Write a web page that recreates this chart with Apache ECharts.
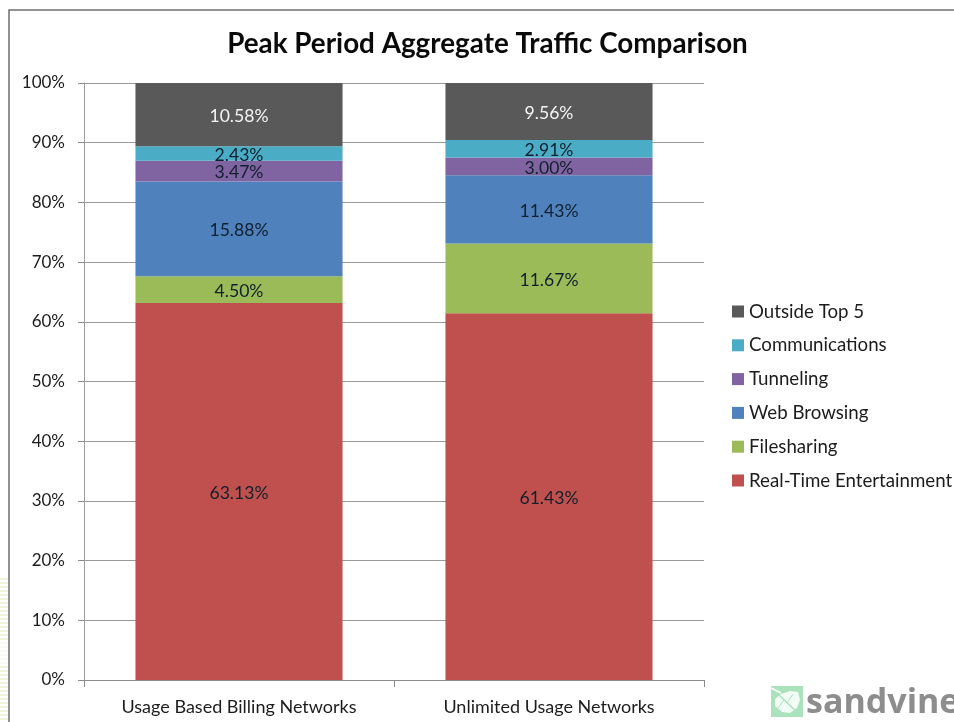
<!DOCTYPE html>
<html><head><meta charset="utf-8">
<style>html,body{margin:0;padding:0;background:#fff}#c{width:954px;height:722px}</style>
<script src="https://cdn.jsdelivr.net/npm/echarts@6/dist/echarts.min.js"></script>
</head><body><div id="c"></div>
<script>
const categories = ['Usage Based Billing Networks', 'Unlimited Usage Networks'];
const realTime = [63.13, 61.43];
const filesharing = [4.50, 11.67];
const webBrowsing = [15.88, 11.43];
const tunneling = [3.47, 3.00];
const communications = [2.43, 2.91];
const outsideTop5 = [10.58, 9.56];
const FONT = 'Lato, "Open Sans", sans-serif';
const TEXT = '#1c1c1c';
const mk = (name, data, color, labelColor) => ({
  name, data, type: 'bar', stack: 'total', barWidth: '66.8%',
  itemStyle: { color },
  label: { show: true, position: 'inside', offset: [0, 1.5], formatter: p => p.value.toFixed(2) + '%',
    color: labelColor || '#10202c', fontFamily: FONT, fontSize: 17.6 }
});
const stripes = [];
for (let y = 578; y < 722; y += 4) {
  const faint = y > 640 && y < 665;
  stripes.push({ type: 'rect', shape: { x: 0, y, width: 8, height: 2 }, style: { fill: faint ? '#f9fbf2' : '#eff5da' }, silent: true });
}
const chart = echarts.init(document.getElementById('c'), null, { renderer: 'canvas' });
chart.setOption({
  animation: false,
  backgroundColor: '#fff',
  title: { text: 'Peak Period Aggregate Traffic Comparison', left: 482.5, top: 25, textAlign: 'center',
    textStyle: { fontFamily: FONT, fontWeight: 'bold', fontSize: 27.8, color: '#0a0a0a' } },
  grid: { left: 84, top: 83, width: 620, height: 597, containLabel: false },
  legend: { orient: 'vertical', left: 732, top: 302, padding: 0, itemWidth: 12, itemHeight: 12, itemGap: 14.8, icon: 'rect',
    data: ['Outside Top 5', 'Communications', 'Tunneling', 'Web Browsing', 'Filesharing', 'Real-Time Entertainment'],
    textStyle: { fontFamily: FONT, fontSize: 18.7, color: TEXT } },
  xAxis: { type: 'category', data: categories,
    axisLine: { lineStyle: { color: '#8a8a8a', width: 1 } },
    axisTick: { show: true, length: 7, alignWithLabel: false, lineStyle: { color: '#8a8a8a' } },
    axisLabel: { color: TEXT, fontFamily: FONT, fontSize: 18, margin: 18 } },
  yAxis: { type: 'value', min: 0, max: 100, interval: 10,
    axisLine: { show: true, lineStyle: { color: '#9a9a9a', width: 1 } },
    axisTick: { show: true, length: 6, lineStyle: { color: '#8a8a8a' } },
    splitLine: { show: true, lineStyle: { color: '#9a9a9a', width: 1 } },
    axisLabel: { formatter: '{value}%', color: TEXT, fontFamily: FONT, fontSize: 17, margin: 19, padding: [2, 0, 0, 0] } },
  series: [
    mk('Real-Time Entertainment', realTime, '#c0504d'),
    mk('Filesharing', filesharing, '#9bbb59'),
    mk('Web Browsing', webBrowsing, '#4f81bd'),
    mk('Tunneling', tunneling, '#8064a2'),
    mk('Communications', communications, '#4bacc6'),
    mk('Outside Top 5', outsideTop5, '#595959', '#f4f4f4')
  ],
  graphic: [
    ...stripes,
    { type: 'polyline', shape: { points: [[954, 10], [9, 10], [9, 722]] }, style: { stroke: '#6e6e6e', lineWidth: 1.5, fill: null }, silent: true },
    { type: 'rect', shape: { x: 771, y: 686, width: 32, height: 31 }, style: { fill: '#a9e2bb' }, silent: true },
    { type: 'polygon', shape: { points: [[781, 694], [790, 691], [798, 692], [800, 700], [797, 708], [790, 713], [782, 712], [775, 706], [775, 699]] }, style: { fill: '#f2fbf5' }, silent: true },
    { type: 'line', shape: { x1: 771, y1: 688, x2: 781, y2: 693 }, style: { stroke: '#ffffff', lineWidth: 1.5 }, silent: true },
    { type: 'line', shape: { x1: 779, y1: 695, x2: 801, y2: 716 }, style: { stroke: '#a9e2bb', lineWidth: 1.5 }, silent: true },
    { type: 'line', shape: { x1: 787, y1: 703, x2: 793, y2: 694 }, style: { stroke: '#a9e2bb', lineWidth: 1 }, silent: true },
    { type: 'line', shape: { x1: 784, y1: 700, x2: 778, y2: 708 }, style: { stroke: '#a9e2bb', lineWidth: 1 }, silent: true },
    { type: 'text', style: { x: 806, y: 703, text: 'sandvine', fill: '#8d8d8d', font: 'bold 34px "Open Sans", sans-serif', verticalAlign: 'middle' }, silent: true }
  ]
});
</script></body></html>
